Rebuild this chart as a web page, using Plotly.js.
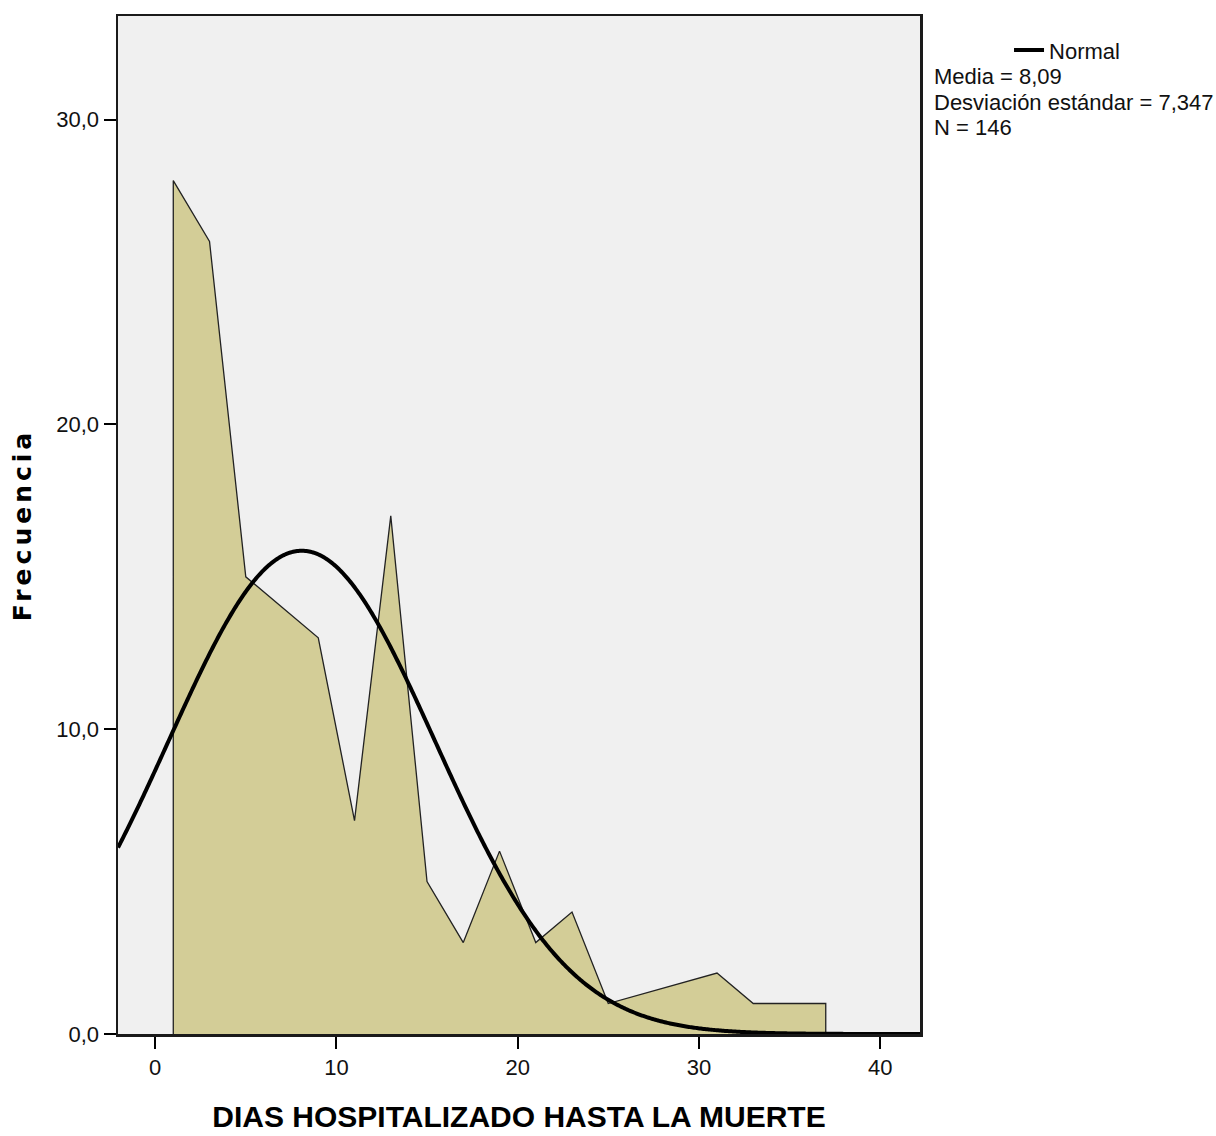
<!DOCTYPE html>
<html>
<head>
<meta charset="utf-8">
<script src="https://cdn.plot.ly/plotly-3.0.1.min.js"></script>
<style>
html,body{margin:0;padding:0;background:#fff;}
#chart{width:1216px;height:1136px;}
.g-ytitle text{letter-spacing:4px;}
</style>
</head>
<body>
<div id="chart"></div>
<script>
// Frequency polygon (bin midpoints, width 2 days)
const dias = [1, 3, 5, 7, 9, 11, 13, 15, 17, 19, 21, 23, 25, 31, 33, 37];
const frecuencia = [28, 26, 15, 14, 13, 7, 17, 5, 3, 6, 3, 4, 1, 2, 1, 1];
// Normal curve parameters (as stated in the legend)
const media = 8.09;
const desviacion = 7.347;
const n = 146;
const anchoIntervalo = 2;
const xTicks = [0, 10, 20, 30, 40];
const yTicks = [0, 10, 20, 30];
const yTickText = ["0,0", "10,0", "20,0", "30,0"];
const legendLines = ["Media = 8,09", "Desviación estándar = 7,347", "N = 146"];

const xRange = [-2.05, 42.2];
const yRange = [0, 33.4];

// polygon: start on baseline at first midpoint, end on baseline at last midpoint
const polyX = [dias[0]].concat(dias, [dias[dias.length - 1]]);
const polyY = [0].concat(frecuencia, [0]);

// normal density scaled to counts
const curveX = [], curveY = [];
const steps = 600;
for (let i = 0; i <= steps; i++) {
  const x = xRange[0] + (xRange[1] - xRange[0]) * i / steps;
  const z = (x - media) / desviacion;
  curveX.push(x);
  curveY.push(n * anchoIntervalo / (desviacion * Math.sqrt(2 * Math.PI)) * Math.exp(-0.5 * z * z));
}

const font = "Liberation Sans, Arial, sans-serif";

const traces = [
  {
    x: polyX, y: polyY, type: 'scatter', mode: 'lines', fill: 'toself',
    fillcolor: '#d3cd97', line: {color: '#222', width: 1.3}, showlegend: false, hoverinfo: 'skip'
  },
  {
    x: curveX, y: curveY, type: 'scatter', mode: 'lines', name: 'Normal',
    line: {color: '#000', width: 4, simplify: false}, showlegend: true
  }
];

const annotations = legendLines.map((t, i) => ({
  text: t, xref: 'paper', yref: 'paper', x: 1.0155, y: 0.941 - i * 0.0255,
  xanchor: 'left', yanchor: 'middle', showarrow: false,
  font: {family: font, size: 22, color: '#111'}
}));

const layout = {
  width: 1216, height: 1136,
  margin: {l: 118, r: 296, t: 16, b: 102},
  paper_bgcolor: '#ffffff',
  plot_bgcolor: '#f0f0f0',
  separators: ',.',
  showlegend: true,
  legend: {
    x: 1.111, y: 0.9663, xanchor: 'left', yanchor: 'middle',
    bgcolor: 'rgba(0,0,0,0)', font: {family: font, size: 22, color: '#111'},
    itemwidth: 30, tracegroupgap: 0
  },
  xaxis: {
    range: xRange, tickvals: xTicks, ticks: 'outside', ticklen: 12, tickwidth: 2, tickcolor: '#000',
    showgrid: false, zeroline: false, showline: true, linecolor: '#1a1a1a', linewidth: 2.5, mirror: true,
    tickfont: {family: font, size: 22, color: '#111'},
    title: {text: 'DIAS HOSPITALIZADO HASTA LA MUERTE', font: {family: font, size: 30, color: '#000', weight: 'bold'}, standoff: 27}
  },
  yaxis: {
    range: yRange, tickvals: yTicks, ticktext: yTickText, ticks: 'outside', ticklen: 12, tickwidth: 2, tickcolor: '#000',
    showgrid: false, zeroline: false, showline: true, linecolor: '#1a1a1a', linewidth: 2.5, mirror: true,
    tickfont: {family: font, size: 22, color: '#111'},
    title: {text: 'Frecuencia', font: {family: 'DejaVu Sans, Verdana, sans-serif', size: 25, color: '#000', weight: 'bold'}, standoff: 18}
  },
  annotations: annotations
};

Plotly.newPlot('chart', traces, layout, {displayModeBar: false, staticPlot: true});
</script>
</body>
</html>
